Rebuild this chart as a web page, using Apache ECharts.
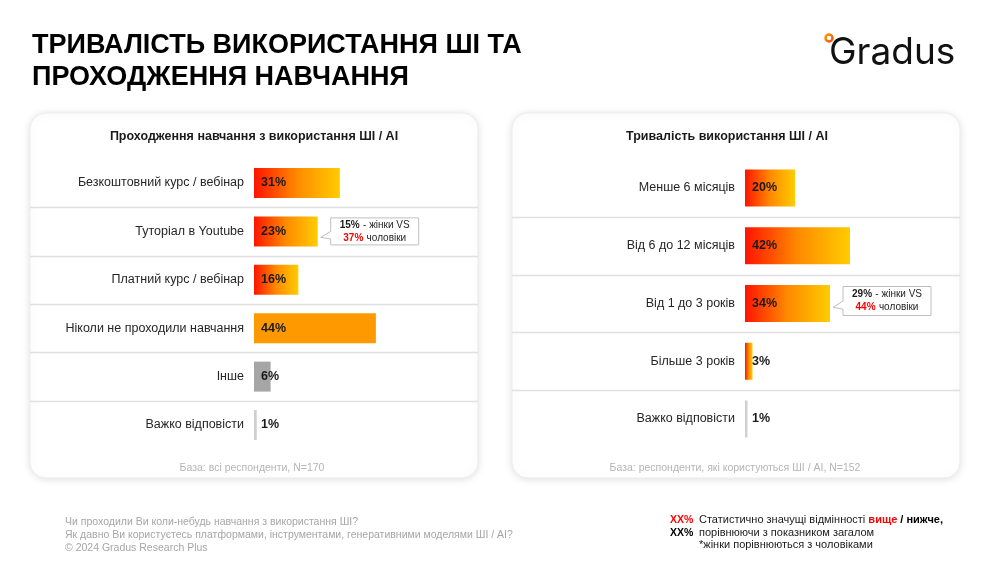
<!DOCTYPE html>
<html><head><meta charset="utf-8">
<script src="https://cdn.jsdelivr.net/npm/echarts@6/dist/echarts.min.js"></script>
<style>html,body{margin:0;padding:0;background:#fff}#c{width:995px;height:578px}</style>
</head><body><div id="c"></div>
<script>
const leftCats = ['Безкоштовний курс / вебінар','Туторіал в Youtube','Платний курс / вебінар','Ніколи не проходили навчання','Інше','Важко відповісти'];
const leftVals = [31,23,16,44,6,1];
const leftKinds = ['grad','grad','grad','orange','gray','light'];
const rightCats = ['Менше 6 місяців','Від 6 до 12 місяців','Від 1 до 3 років','Більше 3 років','Важко відповісти'];
const rightVals = [20,42,34,3,1];
const rightKinds = ['grad','grad','grad','grad','light'];
const leftNote = {index:1, women:15, men:37};
const rightNote = {index:2, women:29, men:44};

const FONT = '"Liberation Sans", Arial, sans-serif';
function colorOf(k){
  if(k==='grad') return new echarts.graphic.LinearGradient(0,0,1,0,[{offset:0,color:'#FF1400'},{offset:0.5,color:'#FF8A00'},{offset:1,color:'#FFCC00'}]);
  if(k==='orange') return '#FF9900';
  if(k==='gray') return '#A6A6A6';
  return '#D0D0D0';
}
function items(vals,kinds){return vals.map((v,i)=>({value:v,itemStyle:{color:colorOf(kinds[i])}}));}

const chart = echarts.init(document.getElementById('c'),null,{renderer:'canvas'});
const yAx = (cats,idx)=>({type:'category',gridIndex:idx,data:cats,inverse:true,
  axisLine:{show:false},axisTick:{show:false},splitLine:{show:false},
  axisLabel:{fontSize:12.5,color:'#262626',margin:10,fontFamily:FONT}});
const xAx = idx=>({type:'value',gridIndex:idx,min:0,max:100,show:false});
const lbl = {show:true,position:'insideLeft',distance:7,formatter:'{c}%',fontSize:12.5,fontWeight:'bold',color:'#1a1a1a',fontFamily:FONT};

chart.setOption({
  animation:false,
  grid:[{left:254,top:158.8,width:277,height:290.4},{left:745,top:159.1,width:260,height:288.8}],
  xAxis:[xAx(0),xAx(1)],
  yAxis:[yAx(leftCats,0),yAx(rightCats,1)],
  series:[
    {type:'bar',xAxisIndex:0,yAxisIndex:0,barWidth:30,data:items(leftVals,leftKinds),label:lbl,z:5},
    {type:'bar',xAxisIndex:1,yAxisIndex:1,barWidth:37,data:items(rightVals,rightKinds),label:lbl,z:5}
  ]
});

function px(series, v, cat){return chart.convertToPixel({seriesIndex:series},[v,cat]);}
const g = [];
[[30,113,448,365],[512,113,448,365]].forEach(r=>{
  g.push({type:'rect',z:-10,shape:{x:r[0],y:r[1],width:r[2],height:r[3],r:16},
    style:{fill:'#fff',stroke:'#EDEDED',lineWidth:1,shadowBlur:8,shadowColor:'rgba(0,0,0,0.13)',shadowOffsetY:1}});
});
function seps(series,cats,x1,x2){
  for(let i=0;i<cats.length-1;i++){
    const a=px(series,0,cats[i])[1], b=px(series,0,cats[i+1])[1];
    const y=Math.round((a+b)/2)+0.5;
    g.push({type:'line',z:-5,shape:{x1:x1,y1:y,x2:x2,y2:y},style:{stroke:'#E0E0E0',lineWidth:1.5}});
  }
}
seps(0,leftCats,30,478);
seps(1,rightCats,512,960);
function callout(series,cats,vals,note,h){
  const p=px(series,vals[note.index],cats[note.index]);
  const bx=p[0]+13, bw=88, by=p[1]-h/2+ (series===0?0:-2.5), bh=h;
  const tipX=p[0]+3, tipY=by+bh*0.72;
  g.push({type:'polygon',z:20,shape:{points:[[bx,by],[bx+bw,by],[bx+bw,by+bh],[bx,by+bh],[bx,by+bh*0.78],[tipX,tipY],[bx,by+bh*0.5]]},
    style:{fill:'#fff',stroke:'#BFBFBF',lineWidth:1}});
  g.push({type:'text',z:21,x:bx+bw/2,y:by+bh/2,style:{
    text:'{b|'+note.women+'%} {n|- жінки VS}\n{r|'+note.men+'%} {n|чоловіки}',
    align:'center',verticalAlign:'middle',
    rich:{b:{fontSize:10,fontWeight:'bold',fill:'#1a1a1a',fontFamily:FONT,lineHeight:13},
          r:{fontSize:10,fontWeight:'bold',fill:'#FF0000',fontFamily:FONT,lineHeight:13},
          n:{fontSize:10,fill:'#262626',fontFamily:FONT,lineHeight:13}}}});
}
callout(0,leftCats,leftVals,leftNote,27);
callout(1,rightCats,rightVals,rightNote,29);

g.push({type:'text',x:32,y:30,style:{text:'ТРИВАЛІСТЬ ВИКОРИСТАННЯ ШІ ТА\nПРОХОДЖЕННЯ НАВЧАННЯ',font:'bold 27px '+FONT,fill:'#000',lineHeight:32}});
g.push({type:'text',x:254,y:137,style:{text:'Проходження навчання з використання ШІ / AI',font:'bold 12.5px '+FONT,fill:'#1a1a1a',align:'center',verticalAlign:'middle'}});
g.push({type:'text',x:727,y:137,style:{text:'Тривалість використання ШІ / AI',font:'bold 12.5px '+FONT,fill:'#1a1a1a',align:'center',verticalAlign:'middle'}});
g.push({type:'text',x:252,y:468,style:{text:'База: всі респонденти, N=170',font:'10.5px '+FONT,fill:'#B5B5B5',align:'center',verticalAlign:'middle'}});
g.push({type:'text',x:735,y:468,style:{text:'База: респонденти, які користуються ШІ / AI, N=152',font:'10.5px '+FONT,fill:'#B5B5B5',align:'center',verticalAlign:'middle'}});
g.push({type:'text',x:829,y:71,style:{text:'Gradus',font:'400 37px Inter, "Noto Sans", sans-serif',fill:'#111',verticalAlign:'bottom'}});
g.push({type:'circle',shape:{cx:829,cy:38,r:3.5},style:{fill:'none',stroke:new echarts.graphic.LinearGradient(0,0,1,1,[{offset:0,color:'#FFB000'},{offset:1,color:'#FF3000'}]),lineWidth:2.4}});
g.push({type:'text',x:65,y:516,style:{text:'Чи проходили Ви коли-небудь навчання з використання ШІ?\nЯк давно Ви користуєтесь платформами, інструментами, генеративними моделями ШІ / AI?\n© 2024 Gradus Research Plus',font:'10.5px '+FONT,fill:'#A6A6A6',lineHeight:13}});
g.push({type:'text',x:670,y:514,style:{text:'{r|XX%}\n{b|XX%}',rich:{r:{fontSize:10.5,fontWeight:'bold',fill:'#FF0000',fontFamily:FONT,lineHeight:12.5},b:{fontSize:10.5,fontWeight:'bold',fill:'#000',fontFamily:FONT,lineHeight:12.5}}}});
g.push({type:'text',x:699,y:514,style:{text:'{n|Статистично значущі відмінності }{r|вище}{b| / нижче,}\n{n|порівнюючи з показником загалом}\n{n|*жінки порівнюються з чоловіками}',
  rich:{n:{fontSize:11,fill:'#1a1a1a',fontFamily:FONT,lineHeight:12.5},r:{fontSize:11,fontWeight:'bold',fill:'#FF0000',fontFamily:FONT,lineHeight:12.5},b:{fontSize:11,fontWeight:'bold',fill:'#000',fontFamily:FONT,lineHeight:12.5}}}});

chart.setOption({graphic:g});
</script></body></html>
